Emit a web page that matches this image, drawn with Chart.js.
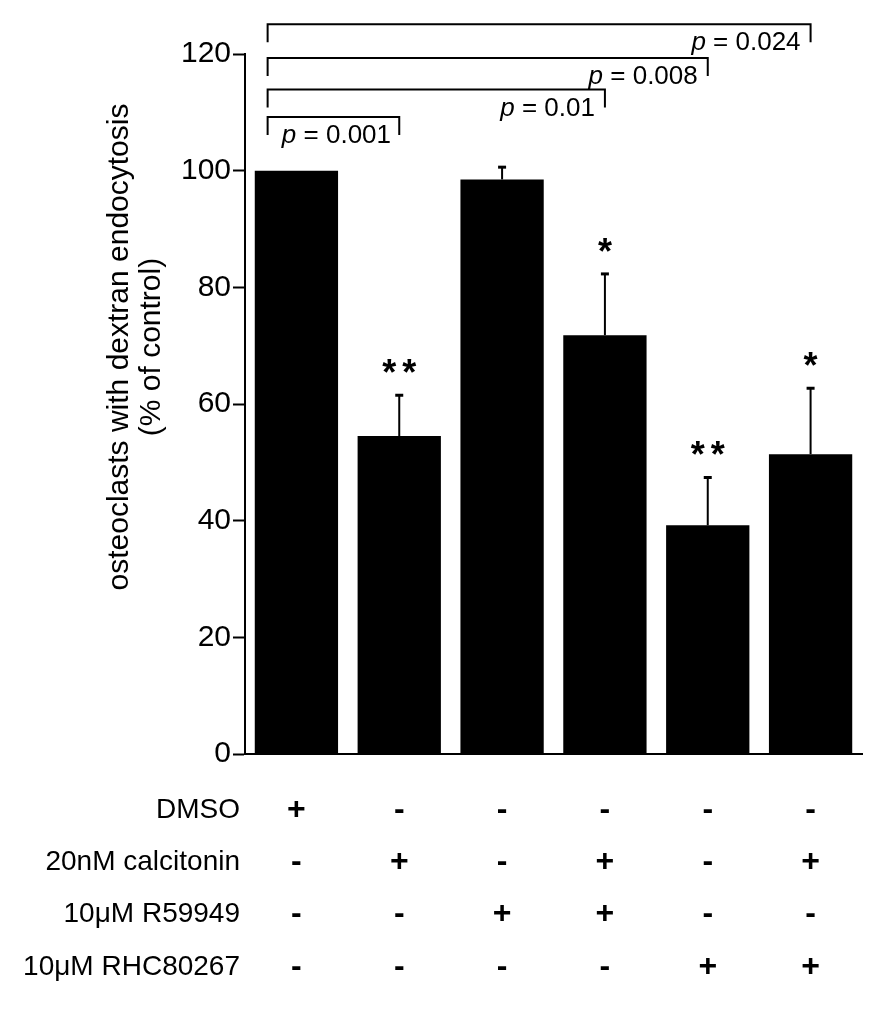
<!DOCTYPE html>
<html>
<head>
<meta charset="utf-8">
<script src="https://cdn.jsdelivr.net/npm/chart.js@4.4.1/dist/chart.umd.min.js"></script>
<style>
  html, body { margin: 0; padding: 0; background: #fff; }
  #wrap { width: 892px; height: 1011px; }
</style>
</head>
<body>
<div id="wrap"><canvas id="chart" width="892" height="1011"></canvas></div>
<script>
// --------------------
// DATA
// --------------------
const groups = ["DMSO", "calcitonin", "R59949", "calcitonin + R59949", "RHC80267", "calcitonin + RHC80267"];
const values = [100, 54.5, 98.5, 71.8, 39.2, 51.4];
const upperErr = [0, 7.0, 2.1, 10.5, 8.2, 11.3];
const stars = ["", "**", "", "*", "**", "*"];

const treatmentNames = ["DMSO", "20nM calcitonin", "10\u03bcM R59949", "10\u03bcM RHC80267"];
const treatmentSigns = [
  ["+", "-", "-", "-", "-", "-"],
  ["-", "+", "-", "+", "-", "+"],
  ["-", "-", "+", "+", "-", "-"],
  ["-", "-", "-", "-", "+", "+"]
];

const yTicks = [0, 20, 40, 60, 80, 100, 120];

// comparisons against the DMSO bar
const pValues = ["0.001", "0.01", "0.008", "0.024"];
const pTargets = [1, 3, 4, 5];
const pLevels = [109.2, 113.9, 119.3, 125.1];

const yTitle = ["osteoclasts with dextran endocytosis", "(% of control)"];

const FONT = '"Liberation Sans", Arial, Helvetica, sans-serif';

// --------------------
// ANNOTATIONS
// --------------------
const annotate = {
  id: "annotate",
  afterDraw(chart) {
    const ctx = chart.ctx;
    const xs = chart.scales.x;
    const ys = chart.scales.y;
    const area = chart.chartArea;
    const bars = chart.getDatasetMeta(0).data;
    const catW = xs.getPixelForValue(1) - xs.getPixelForValue(0);

    ctx.save();
    ctx.strokeStyle = "#000";
    ctx.fillStyle = "#000";

    // error bars + stars
    bars.forEach((bar, i) => {
      let top = bar.y;
      if (upperErr[i]) {
        top = ys.getPixelForValue(values[i] + upperErr[i]);
        ctx.lineWidth = 2;
        ctx.beginPath();
        ctx.moveTo(bar.x, bar.y);
        ctx.lineTo(bar.x, top);
        ctx.stroke();
        ctx.lineWidth = 3;
        ctx.beginPath();
        ctx.moveTo(bar.x - 4, top);
        ctx.lineTo(bar.x + 4, top);
        ctx.stroke();
      }
      if (stars[i]) {
        ctx.font = "bold 36px " + FONT;
        ctx.textAlign = "center";
        ctx.textBaseline = "alphabetic";
        const n = stars[i].length;
        for (let k = 0; k < n; k++) {
          const sx = bar.x + (k - (n - 1) / 2) * 20;
          ctx.fillText("*", sx, top - 31 + 0.58 * 36);
        }
      }
    });

    // significance brackets
    const leftX = xs.getPixelForValue(0) - 0.28 * catW;
    ctx.lineWidth = 2;
    pValues.forEach((p, j) => {
      const rightX = xs.getPixelForValue(pTargets[j]);
      const yy = ys.getPixelForValue(pLevels[j]);
      ctx.beginPath();
      ctx.moveTo(leftX, yy + 18);
      ctx.lineTo(leftX, yy);
      ctx.lineTo(rightX, yy);
      ctx.lineTo(rightX, yy + 18);
      ctx.stroke();

      const rest = " = " + p;
      ctx.textBaseline = "middle";
      ctx.textAlign = "left";
      ctx.font = "italic 26px " + FONT;
      const wp = ctx.measureText("p").width;
      ctx.font = "26px " + FONT;
      const wr = ctx.measureText(rest).width;
      let tx;
      if (j === 0) tx = (leftX + rightX) / 2 - (wp + wr) / 2 + 3;
      else tx = rightX - 10 - (wp + wr);
      const ty = yy + 19;
      ctx.font = "italic 26px " + FONT;
      ctx.fillText("p", tx, ty);
      ctx.font = "26px " + FONT;
      ctx.fillText(rest, tx + wp, ty);
    });

    // treatment table
    ctx.textBaseline = "middle";
    treatmentNames.forEach((name, r) => {
      const ry = area.bottom + 56 + r * 52.3;
      ctx.font = "28px " + FONT;
      ctx.textAlign = "right";
      ctx.fillText(name, area.left - 5, ry);
      ctx.font = "bold 32px " + FONT;
      ctx.textAlign = "center";
      treatmentSigns[r].forEach((s, i) => {
        ctx.fillText(s, xs.getPixelForValue(i), ry);
      });
    });

    // y axis title
    ctx.font = "30px " + FONT;
    ctx.textAlign = "center";
    ctx.textBaseline = "middle";
    yTitle.forEach((t, k) => {
      ctx.save();
      ctx.translate(120 + k * 32, 347);
      ctx.rotate(-Math.PI / 2);
      ctx.fillText(t, 0, 0);
      ctx.restore();
    });

    ctx.restore();
  }
};

// --------------------
// CHART
// --------------------
new Chart(document.getElementById("chart").getContext("2d"), {
  type: "bar",
  data: {
    labels: groups,
    datasets: [{
      data: values,
      backgroundColor: "#000",
      borderWidth: 0,
      categoryPercentage: 1,
      barPercentage: 0.81
    }]
  },
  options: {
    responsive: false,
    animation: false,
    layout: { padding: { top: 54, right: 30, bottom: 0, left: 0 } },
    plugins: {
      legend: { display: false },
      tooltip: { enabled: false }
    },
    scales: {
      x: {
        ticks: { display: false },
        grid: { display: false },
        border: { display: true, color: "#000", width: 2 },
        afterFit(scale) { scale.height = 257; }
      },
      y: {
        min: 0,
        max: 120,
        afterBuildTicks(scale) { scale.ticks = yTicks.map(v => ({ value: v })); },
        ticks: {
          color: "#000",
          font: { family: FONT, size: 30 },
          padding: 2
        },
        grid: {
          display: true,
          drawOnChartArea: false,
          drawTicks: true,
          tickLength: 12,
          tickWidth: 2,
          tickColor: "#000"
        },
        border: { display: true, color: "#000", width: 2 },
        afterFit(scale) { scale.width = 245; }
      }
    }
  },
  plugins: [annotate]
});
</script>
</body>
</html>
